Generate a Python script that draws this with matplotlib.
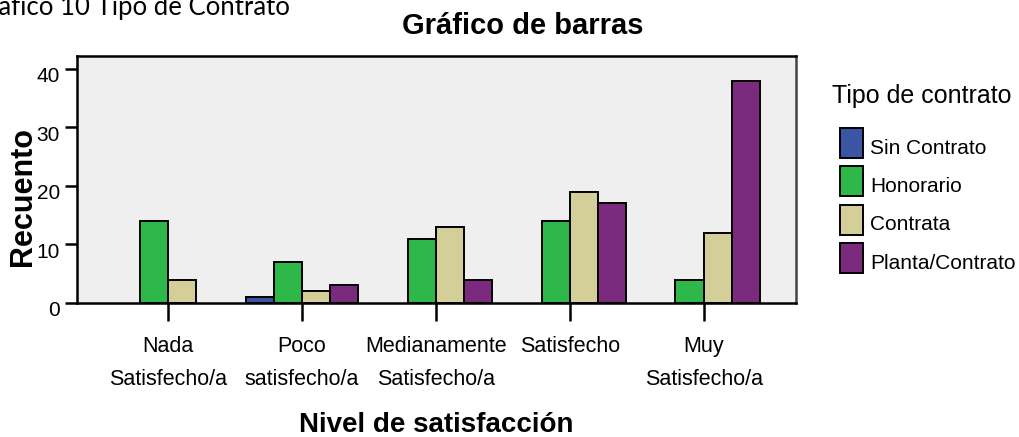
import matplotlib
matplotlib.use("Agg")
import numpy as np
import matplotlib.pyplot as plt
from matplotlib.transforms import ScaledTranslation

plt.rcParams["font.family"] = ["Liberation Sans", "DejaVu Sans"]

categories = ["Nada\nSatisfecho/a", "Poco\nsatisfecho/a", "Medianamente\nSatisfecho/a",
              "Satisfecho", "Muy\nSatisfecho/a"]
series_names = ["Sin Contrato", "Honorario", "Contrata", "Planta/Contrato"]
sin_contrato = [0, 1, 0, 0, 0]
honorario = [14, 7, 11, 14, 4]
contrata = [4, 2, 13, 19, 12]
planta = [0, 3, 4, 17, 38]
colors = ["#3B55A5", "#2FB84A", "#D4CF98", "#7B2A7E"]

values = [sin_contrato, honorario, contrata, planta]

W, H = 1020, 437
fig = plt.figure(figsize=(W / 100, H / 100), dpi=100)
ax = fig.add_axes([77 / W, 1 - 303 / H, (796 - 77) / W, (303 - 56) / H])
ax.set_facecolor("#EFEFEF")

x = np.arange(len(categories))
w = 0.21
for i, (name, vals, c) in enumerate(zip(series_names, values, colors)):
    vals = np.array(vals)
    keep = vals > 0          # empty cells get no bar at all
    ax.bar(x[keep] + (i - 1.5) * w, vals[keep], width=w, color=c, edgecolor="black",
           linewidth=1.4, label=name, zorder=3)

ax.set_xlim(-0.68, 4.69)
ax.set_ylim(0, 42.2)
ax.set_yticks([0, 10, 20, 30, 40])
ax.set_xticks(x)
ax.set_xticklabels(categories, fontsize=15.5, linespacing=1.72)
ax.tick_params(axis="y", length=8.6, width=1.8, labelsize=15, pad=3.6, direction="out")
ax.tick_params(axis="x", length=13, width=1.8, pad=11, direction="out")
# SPSS-style labels sit slightly below their tick
for lab in ax.get_yticklabels():
    lab.set_transform(lab.get_transform() + ScaledTranslation(0, -0.06, fig.dpi_scale_trans))
for s in ax.spines.values():
    s.set_linewidth(1.8)
    s.set_color("black")
ax.spines["right"].set_color("#444444")

fig.text(23 / W, 1 - 196 / H, "Recuento", fontsize=22, fontweight="bold",
         rotation=90, ha="center", va="center")
fig.text(436 / W, 1 - 432 / H, "Nivel de satisfacción", fontsize=20,
         fontweight="bold", ha="center", va="baseline")
fig.text(523 / W, 1 - 34 / H, "Gráfico de barras", fontsize=21, fontweight="bold",
         ha="center", va="baseline")

fig.text(290 / W, 1 - 15 / H, "Gráfico 10 Tipo de Contrato", fontsize=18.5,
         family="Lato", ha="right", va="baseline")

fig.text(832 / W, 1 - 103 / H, "Tipo de contrato", fontsize=18, ha="left", va="baseline")
leg = ax.legend(loc="upper left", bbox_to_anchor=(840 / W, 1 - 128 / H),
                bbox_transform=fig.transFigure, frameon=False, borderpad=0,
                borderaxespad=0, fontsize=15, handlelength=1.1, handleheight=1.84,
                handletextpad=0.34, labelspacing=0.4)
for t in leg.get_texts():
    t.set_transform(t.get_transform() + ScaledTranslation(0, -0.04, fig.dpi_scale_trans))

fig.savefig("out.png", dpi=100)
